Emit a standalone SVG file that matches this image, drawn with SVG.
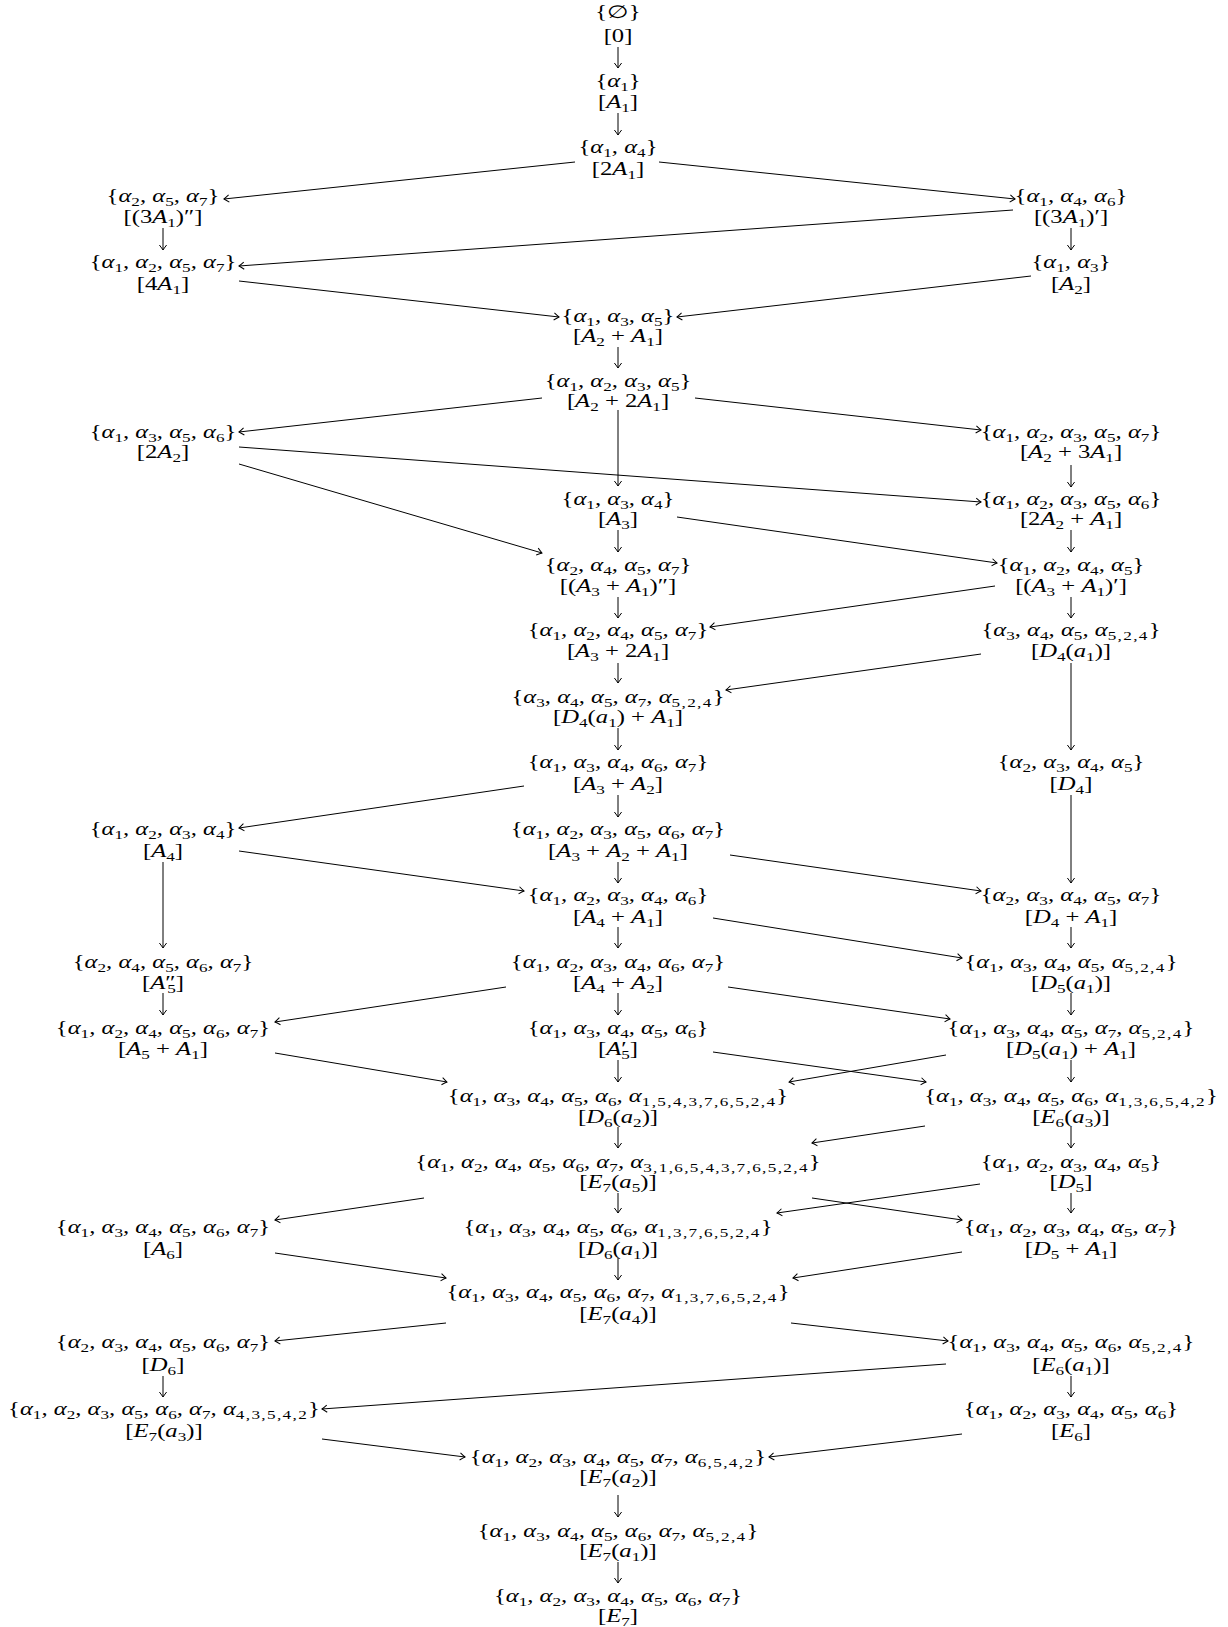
<svg xmlns="http://www.w3.org/2000/svg" width="1228" height="1627" viewBox="0 0 1228 1627">
<style>
text{font-family:"Liberation Serif","Times New Roman",serif;font-size:18px;text-anchor:middle;fill:#000}
.i{font-style:italic}
.u{font-style:normal}
.s{font-size:12.5px;font-style:normal;baseline-shift:-4px}
.m{letter-spacing:1px}
.p{font-style:normal}
.e{stroke:#000;stroke-width:1;fill:none;marker-end:url(#ah)}
</style>
<defs>
<marker id="ah" viewBox="-7 -5 9 10" refX="0" refY="0" markerWidth="9" markerHeight="10" orient="auto" markerUnits="userSpaceOnUse">
<path d="M-5,-3.6 Q-1.6,-1 0,0 Q-1.6,1 -5,3.6" fill="none" stroke="#000" stroke-width="1"/>
</marker>
</defs>
<rect width="1228" height="1627" fill="#fff"/>

<g id="edges">
<line class="e" x1="618" y1="47" x2="618" y2="68"/>
<line class="e" x1="618" y1="113" x2="618" y2="135"/>
<line class="e" x1="618" y1="347" x2="618" y2="368"/>
<line class="e" x1="618" y1="410" x2="618" y2="486"/>
<line class="e" x1="618" y1="530" x2="618" y2="552"/>
<line class="e" x1="618" y1="597" x2="618" y2="618"/>
<line class="e" x1="618" y1="663" x2="618" y2="683"/>
<line class="e" x1="618" y1="728" x2="618" y2="750"/>
<line class="e" x1="618" y1="795" x2="618" y2="817"/>
<line class="e" x1="618" y1="862" x2="618" y2="883"/>
<line class="e" x1="618" y1="927" x2="618" y2="948"/>
<line class="e" x1="618" y1="993" x2="618" y2="1015"/>
<line class="e" x1="618" y1="1060" x2="618" y2="1082"/>
<line class="e" x1="618" y1="1127" x2="618" y2="1148"/>
<line class="e" x1="618" y1="1193" x2="618" y2="1213"/>
<line class="e" x1="618" y1="1258" x2="618" y2="1280"/>
<line class="e" x1="618" y1="1495" x2="618" y2="1517"/>
<line class="e" x1="618" y1="1562" x2="618" y2="1583"/>
<line class="e" x1="163" y1="228" x2="163" y2="250"/>
<line class="e" x1="163" y1="862" x2="163" y2="948"/>
<line class="e" x1="163" y1="993" x2="163" y2="1015"/>
<line class="e" x1="163" y1="1376" x2="163" y2="1397"/>
<line class="e" x1="1071" y1="228" x2="1071" y2="250"/>
<line class="e" x1="1071" y1="465" x2="1071" y2="487"/>
<line class="e" x1="1071" y1="530" x2="1071" y2="552"/>
<line class="e" x1="1071" y1="597" x2="1071" y2="618"/>
<line class="e" x1="1071" y1="663" x2="1071" y2="750"/>
<line class="e" x1="1071" y1="795" x2="1071" y2="883"/>
<line class="e" x1="1071" y1="927" x2="1071" y2="948"/>
<line class="e" x1="1071" y1="993" x2="1071" y2="1015"/>
<line class="e" x1="1071" y1="1060" x2="1071" y2="1082"/>
<line class="e" x1="1071" y1="1127" x2="1071" y2="1148"/>
<line class="e" x1="1071" y1="1193" x2="1071" y2="1213"/>
<line class="e" x1="1071" y1="1376" x2="1071" y2="1397"/>
<line class="e" x1="575" y1="162" x2="224" y2="199"/>
<line class="e" x1="659" y1="162" x2="1015" y2="199"/>
<line class="e" x1="1013" y1="210" x2="239" y2="266"/>
<line class="e" x1="239" y1="281" x2="559" y2="317"/>
<line class="e" x1="1031" y1="276" x2="677" y2="317"/>
<line class="e" x1="542" y1="398" x2="239" y2="432"/>
<line class="e" x1="695" y1="398" x2="981" y2="430"/>
<line class="e" x1="239" y1="447" x2="981" y2="502"/>
<line class="e" x1="239" y1="464" x2="542" y2="553"/>
<line class="e" x1="677" y1="517" x2="997" y2="563"/>
<line class="e" x1="995" y1="586" x2="710" y2="627"/>
<line class="e" x1="981" y1="654" x2="726" y2="690"/>
<line class="e" x1="524" y1="786" x2="239" y2="828"/>
<line class="e" x1="239" y1="851" x2="524" y2="891"/>
<line class="e" x1="730" y1="855" x2="981" y2="891"/>
<line class="e" x1="713" y1="918" x2="962" y2="958"/>
<line class="e" x1="506" y1="987" x2="275" y2="1022"/>
<line class="e" x1="728" y1="987" x2="950" y2="1019"/>
<line class="e" x1="275" y1="1053" x2="447" y2="1082"/>
<line class="e" x1="713" y1="1052" x2="926" y2="1082"/>
<line class="e" x1="946" y1="1055" x2="789" y2="1082"/>
<line class="e" x1="925" y1="1126" x2="812" y2="1143"/>
<line class="e" x1="424" y1="1198" x2="275" y2="1220"/>
<line class="e" x1="812" y1="1198" x2="962" y2="1220"/>
<line class="e" x1="980" y1="1184" x2="777" y2="1213"/>
<line class="e" x1="275" y1="1253" x2="446" y2="1278"/>
<line class="e" x1="962" y1="1252" x2="793" y2="1278"/>
<line class="e" x1="446" y1="1323" x2="275" y2="1341"/>
<line class="e" x1="791" y1="1323" x2="948" y2="1341"/>
<line class="e" x1="946" y1="1364" x2="322" y2="1409"/>
<line class="e" x1="322" y1="1439" x2="465" y2="1457"/>
<line class="e" x1="962" y1="1434" x2="769" y2="1457"/>
</g>

<g id="n0" transform="translate(618 0) scale(1.37 1)"><text y="18">{∅}</text><text y="42">[0]</text></g>
<g id="n1" transform="translate(618 0) scale(1.37 1)"><text class="i" y="87"><tspan class="u">{</tspan>α<tspan class="s">1</tspan><tspan class="u">}</tspan></text><text y="108">[<tspan class="i">A</tspan><tspan class="s">1</tspan>]</text></g>
<g id="n2" transform="translate(618 0) scale(1.37 1)"><text class="i" y="153"><tspan class="u">{</tspan>α<tspan class="s">1</tspan>, α<tspan class="s">4</tspan><tspan class="u">}</tspan></text><text y="175">[2<tspan class="i">A</tspan><tspan class="s">1</tspan>]</text></g>
<g id="n3" transform="translate(163 0) scale(1.37 1)"><text class="i" y="202"><tspan class="u">{</tspan>α<tspan class="s">2</tspan>, α<tspan class="s">5</tspan>, α<tspan class="s">7</tspan><tspan class="u">}</tspan></text><text y="223">[(3<tspan class="i">A</tspan><tspan class="s">1</tspan>)″]</text></g>
<g id="n4" transform="translate(1071 0) scale(1.37 1)"><text class="i" y="202"><tspan class="u">{</tspan>α<tspan class="s">1</tspan>, α<tspan class="s">4</tspan>, α<tspan class="s">6</tspan><tspan class="u">}</tspan></text><text y="223">[(3<tspan class="i">A</tspan><tspan class="s">1</tspan>)′]</text></g>
<g id="n5" transform="translate(163 0) scale(1.37 1)"><text class="i" y="268"><tspan class="u">{</tspan>α<tspan class="s">1</tspan>, α<tspan class="s">2</tspan>, α<tspan class="s">5</tspan>, α<tspan class="s">7</tspan><tspan class="u">}</tspan></text><text y="290">[4<tspan class="i">A</tspan><tspan class="s">1</tspan>]</text></g>
<g id="n6" transform="translate(1071 0) scale(1.37 1)"><text class="i" y="268"><tspan class="u">{</tspan>α<tspan class="s">1</tspan>, α<tspan class="s">3</tspan><tspan class="u">}</tspan></text><text y="290">[<tspan class="i">A</tspan><tspan class="s">2</tspan>]</text></g>
<g id="n7" transform="translate(618 0) scale(1.37 1)"><text class="i" y="322"><tspan class="u">{</tspan>α<tspan class="s">1</tspan>, α<tspan class="s">3</tspan>, α<tspan class="s">5</tspan><tspan class="u">}</tspan></text><text y="342">[<tspan class="i">A</tspan><tspan class="s">2</tspan> + <tspan class="i">A</tspan><tspan class="s">1</tspan>]</text></g>
<g id="n8" transform="translate(618 0) scale(1.37 1)"><text class="i" y="387"><tspan class="u">{</tspan>α<tspan class="s">1</tspan>, α<tspan class="s">2</tspan>, α<tspan class="s">3</tspan>, α<tspan class="s">5</tspan><tspan class="u">}</tspan></text><text y="407">[<tspan class="i">A</tspan><tspan class="s">2</tspan> + 2<tspan class="i">A</tspan><tspan class="s">1</tspan>]</text></g>
<g id="n9" transform="translate(163 0) scale(1.37 1)"><text class="i" y="438"><tspan class="u">{</tspan>α<tspan class="s">1</tspan>, α<tspan class="s">3</tspan>, α<tspan class="s">5</tspan>, α<tspan class="s">6</tspan><tspan class="u">}</tspan></text><text y="458">[2<tspan class="i">A</tspan><tspan class="s">2</tspan>]</text></g>
<g id="n10" transform="translate(1071 0) scale(1.37 1)"><text class="i" y="438"><tspan class="u">{</tspan>α<tspan class="s">1</tspan>, α<tspan class="s">2</tspan>, α<tspan class="s">3</tspan>, α<tspan class="s">5</tspan>, α<tspan class="s">7</tspan><tspan class="u">}</tspan></text><text y="458">[<tspan class="i">A</tspan><tspan class="s">2</tspan> + 3<tspan class="i">A</tspan><tspan class="s">1</tspan>]</text></g>
<g id="n11" transform="translate(618 0) scale(1.37 1)"><text class="i" y="505"><tspan class="u">{</tspan>α<tspan class="s">1</tspan>, α<tspan class="s">3</tspan>, α<tspan class="s">4</tspan><tspan class="u">}</tspan></text><text y="525">[<tspan class="i">A</tspan><tspan class="s">3</tspan>]</text></g>
<g id="n12" transform="translate(1071 0) scale(1.37 1)"><text class="i" y="505"><tspan class="u">{</tspan>α<tspan class="s">1</tspan>, α<tspan class="s">2</tspan>, α<tspan class="s">3</tspan>, α<tspan class="s">5</tspan>, α<tspan class="s">6</tspan><tspan class="u">}</tspan></text><text y="525">[2<tspan class="i">A</tspan><tspan class="s">2</tspan> + <tspan class="i">A</tspan><tspan class="s">1</tspan>]</text></g>
<g id="n13" transform="translate(618 0) scale(1.37 1)"><text class="i" y="571"><tspan class="u">{</tspan>α<tspan class="s">2</tspan>, α<tspan class="s">4</tspan>, α<tspan class="s">5</tspan>, α<tspan class="s">7</tspan><tspan class="u">}</tspan></text><text y="592">[(<tspan class="i">A</tspan><tspan class="s">3</tspan> + <tspan class="i">A</tspan><tspan class="s">1</tspan>)″]</text></g>
<g id="n14" transform="translate(1071 0) scale(1.37 1)"><text class="i" y="571"><tspan class="u">{</tspan>α<tspan class="s">1</tspan>, α<tspan class="s">2</tspan>, α<tspan class="s">4</tspan>, α<tspan class="s">5</tspan><tspan class="u">}</tspan></text><text y="592">[(<tspan class="i">A</tspan><tspan class="s">3</tspan> + <tspan class="i">A</tspan><tspan class="s">1</tspan>)′]</text></g>
<g id="n15" transform="translate(618 0) scale(1.37 1)"><text class="i" y="636"><tspan class="u">{</tspan>α<tspan class="s">1</tspan>, α<tspan class="s">2</tspan>, α<tspan class="s">4</tspan>, α<tspan class="s">5</tspan>, α<tspan class="s">7</tspan><tspan class="u">}</tspan></text><text y="657">[<tspan class="i">A</tspan><tspan class="s">3</tspan> + 2<tspan class="i">A</tspan><tspan class="s">1</tspan>]</text></g>
<g id="n16" transform="translate(1071 0) scale(1.37 1)"><text class="i" y="636"><tspan class="u">{</tspan>α<tspan class="s">3</tspan>, α<tspan class="s">4</tspan>, α<tspan class="s">5</tspan>, α<tspan class="s m">5,2,4</tspan><tspan class="u">}</tspan></text><text y="657">[<tspan class="i">D</tspan><tspan class="s">4</tspan>(<tspan class="i">a</tspan><tspan class="s">1</tspan>)]</text></g>
<g id="n17" transform="translate(618 0) scale(1.37 1)"><text class="i" y="703"><tspan class="u">{</tspan>α<tspan class="s">3</tspan>, α<tspan class="s">4</tspan>, α<tspan class="s">5</tspan>, α<tspan class="s">7</tspan>, α<tspan class="s m">5,2,4</tspan><tspan class="u">}</tspan></text><text y="723">[<tspan class="i">D</tspan><tspan class="s">4</tspan>(<tspan class="i">a</tspan><tspan class="s">1</tspan>) + <tspan class="i">A</tspan><tspan class="s">1</tspan>]</text></g>
<g id="n18" transform="translate(618 0) scale(1.37 1)"><text class="i" y="768"><tspan class="u">{</tspan>α<tspan class="s">1</tspan>, α<tspan class="s">3</tspan>, α<tspan class="s">4</tspan>, α<tspan class="s">6</tspan>, α<tspan class="s">7</tspan><tspan class="u">}</tspan></text><text y="790">[<tspan class="i">A</tspan><tspan class="s">3</tspan> + <tspan class="i">A</tspan><tspan class="s">2</tspan>]</text></g>
<g id="n19" transform="translate(1071 0) scale(1.37 1)"><text class="i" y="768"><tspan class="u">{</tspan>α<tspan class="s">2</tspan>, α<tspan class="s">3</tspan>, α<tspan class="s">4</tspan>, α<tspan class="s">5</tspan><tspan class="u">}</tspan></text><text y="790">[<tspan class="i">D</tspan><tspan class="s">4</tspan>]</text></g>
<g id="n20" transform="translate(163 0) scale(1.37 1)"><text class="i" y="835"><tspan class="u">{</tspan>α<tspan class="s">1</tspan>, α<tspan class="s">2</tspan>, α<tspan class="s">3</tspan>, α<tspan class="s">4</tspan><tspan class="u">}</tspan></text><text y="857">[<tspan class="i">A</tspan><tspan class="s">4</tspan>]</text></g>
<g id="n21" transform="translate(618 0) scale(1.37 1)"><text class="i" y="835"><tspan class="u">{</tspan>α<tspan class="s">1</tspan>, α<tspan class="s">2</tspan>, α<tspan class="s">3</tspan>, α<tspan class="s">5</tspan>, α<tspan class="s">6</tspan>, α<tspan class="s">7</tspan><tspan class="u">}</tspan></text><text y="857">[<tspan class="i">A</tspan><tspan class="s">3</tspan> + <tspan class="i">A</tspan><tspan class="s">2</tspan> + <tspan class="i">A</tspan><tspan class="s">1</tspan>]</text></g>
<g id="n22" transform="translate(618 0) scale(1.37 1)"><text class="i" y="901"><tspan class="u">{</tspan>α<tspan class="s">1</tspan>, α<tspan class="s">2</tspan>, α<tspan class="s">3</tspan>, α<tspan class="s">4</tspan>, α<tspan class="s">6</tspan><tspan class="u">}</tspan></text><text y="923">[<tspan class="i">A</tspan><tspan class="s">4</tspan> + <tspan class="i">A</tspan><tspan class="s">1</tspan>]</text></g>
<g id="n23" transform="translate(1071 0) scale(1.37 1)"><text class="i" y="901"><tspan class="u">{</tspan>α<tspan class="s">2</tspan>, α<tspan class="s">3</tspan>, α<tspan class="s">4</tspan>, α<tspan class="s">5</tspan>, α<tspan class="s">7</tspan><tspan class="u">}</tspan></text><text y="923">[<tspan class="i">D</tspan><tspan class="s">4</tspan> + <tspan class="i">A</tspan><tspan class="s">1</tspan>]</text></g>
<g id="n24" transform="translate(163 0) scale(1.37 1)"><text class="i" y="968"><tspan class="u">{</tspan>α<tspan class="s">2</tspan>, α<tspan class="s">4</tspan>, α<tspan class="s">5</tspan>, α<tspan class="s">6</tspan>, α<tspan class="s">7</tspan><tspan class="u">}</tspan></text><text y="989">[<tspan class="i">A</tspan><tspan class="p">″</tspan><tspan class="s" dx="-6">5</tspan>]</text></g>
<g id="n25" transform="translate(618 0) scale(1.37 1)"><text class="i" y="968"><tspan class="u">{</tspan>α<tspan class="s">1</tspan>, α<tspan class="s">2</tspan>, α<tspan class="s">3</tspan>, α<tspan class="s">4</tspan>, α<tspan class="s">6</tspan>, α<tspan class="s">7</tspan><tspan class="u">}</tspan></text><text y="989">[<tspan class="i">A</tspan><tspan class="s">4</tspan> + <tspan class="i">A</tspan><tspan class="s">2</tspan>]</text></g>
<g id="n26" transform="translate(1071 0) scale(1.37 1)"><text class="i" y="968"><tspan class="u">{</tspan>α<tspan class="s">1</tspan>, α<tspan class="s">3</tspan>, α<tspan class="s">4</tspan>, α<tspan class="s">5</tspan>, α<tspan class="s m">5,2,4</tspan><tspan class="u">}</tspan></text><text y="989">[<tspan class="i">D</tspan><tspan class="s">5</tspan>(<tspan class="i">a</tspan><tspan class="s">1</tspan>)]</text></g>
<g id="n27" transform="translate(163 0) scale(1.37 1)"><text class="i" y="1034"><tspan class="u">{</tspan>α<tspan class="s">1</tspan>, α<tspan class="s">2</tspan>, α<tspan class="s">4</tspan>, α<tspan class="s">5</tspan>, α<tspan class="s">6</tspan>, α<tspan class="s">7</tspan><tspan class="u">}</tspan></text><text y="1055">[<tspan class="i">A</tspan><tspan class="s">5</tspan> + <tspan class="i">A</tspan><tspan class="s">1</tspan>]</text></g>
<g id="n28" transform="translate(618 0) scale(1.37 1)"><text class="i" y="1034"><tspan class="u">{</tspan>α<tspan class="s">1</tspan>, α<tspan class="s">3</tspan>, α<tspan class="s">4</tspan>, α<tspan class="s">5</tspan>, α<tspan class="s">6</tspan><tspan class="u">}</tspan></text><text y="1055">[<tspan class="i">A</tspan><tspan class="p">′</tspan><tspan class="s" dx="-4">5</tspan>]</text></g>
<g id="n29" transform="translate(1071 0) scale(1.37 1)"><text class="i" y="1034"><tspan class="u">{</tspan>α<tspan class="s">1</tspan>, α<tspan class="s">3</tspan>, α<tspan class="s">4</tspan>, α<tspan class="s">5</tspan>, α<tspan class="s">7</tspan>, α<tspan class="s m">5,2,4</tspan><tspan class="u">}</tspan></text><text y="1055">[<tspan class="i">D</tspan><tspan class="s">5</tspan>(<tspan class="i">a</tspan><tspan class="s">1</tspan>) + <tspan class="i">A</tspan><tspan class="s">1</tspan>]</text></g>
<g id="n30" transform="translate(618 0) scale(1.37 1)"><text class="i" y="1102"><tspan class="u">{</tspan>α<tspan class="s">1</tspan>, α<tspan class="s">3</tspan>, α<tspan class="s">4</tspan>, α<tspan class="s">5</tspan>, α<tspan class="s">6</tspan>, α<tspan class="s m">1,5,4,3,7,6,5,2,4</tspan><tspan class="u">}</tspan></text><text y="1123">[<tspan class="i">D</tspan><tspan class="s">6</tspan>(<tspan class="i">a</tspan><tspan class="s">2</tspan>)]</text></g>
<g id="n31" transform="translate(1071 0) scale(1.37 1)"><text class="i" y="1102"><tspan class="u">{</tspan>α<tspan class="s">1</tspan>, α<tspan class="s">3</tspan>, α<tspan class="s">4</tspan>, α<tspan class="s">5</tspan>, α<tspan class="s">6</tspan>, α<tspan class="s m">1,3,6,5,4,2</tspan><tspan class="u">}</tspan></text><text y="1123">[<tspan class="i">E</tspan><tspan class="s">6</tspan>(<tspan class="i">a</tspan><tspan class="s">3</tspan>)]</text></g>
<g id="n32" transform="translate(618 0) scale(1.37 1)"><text class="i" y="1168"><tspan class="u">{</tspan>α<tspan class="s">1</tspan>, α<tspan class="s">2</tspan>, α<tspan class="s">4</tspan>, α<tspan class="s">5</tspan>, α<tspan class="s">6</tspan>, α<tspan class="s">7</tspan>, α<tspan class="s m">3,1,6,5,4,3,7,6,5,2,4</tspan><tspan class="u">}</tspan></text><text y="1188">[<tspan class="i">E</tspan><tspan class="s">7</tspan>(<tspan class="i">a</tspan><tspan class="s">5</tspan>)]</text></g>
<g id="n33" transform="translate(1071 0) scale(1.37 1)"><text class="i" y="1168"><tspan class="u">{</tspan>α<tspan class="s">1</tspan>, α<tspan class="s">2</tspan>, α<tspan class="s">3</tspan>, α<tspan class="s">4</tspan>, α<tspan class="s">5</tspan><tspan class="u">}</tspan></text><text y="1188">[<tspan class="i">D</tspan><tspan class="s">5</tspan>]</text></g>
<g id="n34" transform="translate(163 0) scale(1.37 1)"><text class="i" y="1233"><tspan class="u">{</tspan>α<tspan class="s">1</tspan>, α<tspan class="s">3</tspan>, α<tspan class="s">4</tspan>, α<tspan class="s">5</tspan>, α<tspan class="s">6</tspan>, α<tspan class="s">7</tspan><tspan class="u">}</tspan></text><text y="1255">[<tspan class="i">A</tspan><tspan class="s">6</tspan>]</text></g>
<g id="n35" transform="translate(618 0) scale(1.37 1)"><text class="i" y="1233"><tspan class="u">{</tspan>α<tspan class="s">1</tspan>, α<tspan class="s">3</tspan>, α<tspan class="s">4</tspan>, α<tspan class="s">5</tspan>, α<tspan class="s">6</tspan>, α<tspan class="s m">1,3,7,6,5,2,4</tspan><tspan class="u">}</tspan></text><text y="1255">[<tspan class="i">D</tspan><tspan class="s">6</tspan>(<tspan class="i">a</tspan><tspan class="s">1</tspan>)]</text></g>
<g id="n36" transform="translate(1071 0) scale(1.37 1)"><text class="i" y="1233"><tspan class="u">{</tspan>α<tspan class="s">1</tspan>, α<tspan class="s">2</tspan>, α<tspan class="s">3</tspan>, α<tspan class="s">4</tspan>, α<tspan class="s">5</tspan>, α<tspan class="s">7</tspan><tspan class="u">}</tspan></text><text y="1255">[<tspan class="i">D</tspan><tspan class="s">5</tspan> + <tspan class="i">A</tspan><tspan class="s">1</tspan>]</text></g>
<g id="n37" transform="translate(618 0) scale(1.37 1)"><text class="i" y="1298"><tspan class="u">{</tspan>α<tspan class="s">1</tspan>, α<tspan class="s">3</tspan>, α<tspan class="s">4</tspan>, α<tspan class="s">5</tspan>, α<tspan class="s">6</tspan>, α<tspan class="s">7</tspan>, α<tspan class="s m">1,3,7,6,5,2,4</tspan><tspan class="u">}</tspan></text><text y="1320">[<tspan class="i">E</tspan><tspan class="s">7</tspan>(<tspan class="i">a</tspan><tspan class="s">4</tspan>)]</text></g>
<g id="n38" transform="translate(163 0) scale(1.37 1)"><text class="i" y="1348"><tspan class="u">{</tspan>α<tspan class="s">2</tspan>, α<tspan class="s">3</tspan>, α<tspan class="s">4</tspan>, α<tspan class="s">5</tspan>, α<tspan class="s">6</tspan>, α<tspan class="s">7</tspan><tspan class="u">}</tspan></text><text y="1371">[<tspan class="i">D</tspan><tspan class="s">6</tspan>]</text></g>
<g id="n39" transform="translate(1071 0) scale(1.37 1)"><text class="i" y="1348"><tspan class="u">{</tspan>α<tspan class="s">1</tspan>, α<tspan class="s">3</tspan>, α<tspan class="s">4</tspan>, α<tspan class="s">5</tspan>, α<tspan class="s">6</tspan>, α<tspan class="s m">5,2,4</tspan><tspan class="u">}</tspan></text><text y="1371">[<tspan class="i">E</tspan><tspan class="s">6</tspan>(<tspan class="i">a</tspan><tspan class="s">1</tspan>)]</text></g>
<g id="n40" transform="translate(164 0) scale(1.37 1)"><text class="i" y="1415"><tspan class="u">{</tspan>α<tspan class="s">1</tspan>, α<tspan class="s">2</tspan>, α<tspan class="s">3</tspan>, α<tspan class="s">5</tspan>, α<tspan class="s">6</tspan>, α<tspan class="s">7</tspan>, α<tspan class="s m">4,3,5,4,2</tspan><tspan class="u">}</tspan></text><text y="1437">[<tspan class="i">E</tspan><tspan class="s">7</tspan>(<tspan class="i">a</tspan><tspan class="s">3</tspan>)]</text></g>
<g id="n41" transform="translate(1071 0) scale(1.37 1)"><text class="i" y="1415"><tspan class="u">{</tspan>α<tspan class="s">1</tspan>, α<tspan class="s">2</tspan>, α<tspan class="s">3</tspan>, α<tspan class="s">4</tspan>, α<tspan class="s">5</tspan>, α<tspan class="s">6</tspan><tspan class="u">}</tspan></text><text y="1437">[<tspan class="i">E</tspan><tspan class="s">6</tspan>]</text></g>
<g id="n42" transform="translate(618 0) scale(1.37 1)"><text class="i" y="1463"><tspan class="u">{</tspan>α<tspan class="s">1</tspan>, α<tspan class="s">2</tspan>, α<tspan class="s">3</tspan>, α<tspan class="s">4</tspan>, α<tspan class="s">5</tspan>, α<tspan class="s">7</tspan>, α<tspan class="s m">6,5,4,2</tspan><tspan class="u">}</tspan></text><text y="1483">[<tspan class="i">E</tspan><tspan class="s">7</tspan>(<tspan class="i">a</tspan><tspan class="s">2</tspan>)]</text></g>
<g id="n43" transform="translate(618 0) scale(1.37 1)"><text class="i" y="1537"><tspan class="u">{</tspan>α<tspan class="s">1</tspan>, α<tspan class="s">3</tspan>, α<tspan class="s">4</tspan>, α<tspan class="s">5</tspan>, α<tspan class="s">6</tspan>, α<tspan class="s">7</tspan>, α<tspan class="s m">5,2,4</tspan><tspan class="u">}</tspan></text><text y="1557">[<tspan class="i">E</tspan><tspan class="s">7</tspan>(<tspan class="i">a</tspan><tspan class="s">1</tspan>)]</text></g>
<g id="n44" transform="translate(618 0) scale(1.37 1)"><text class="i" y="1602"><tspan class="u">{</tspan>α<tspan class="s">1</tspan>, α<tspan class="s">2</tspan>, α<tspan class="s">3</tspan>, α<tspan class="s">4</tspan>, α<tspan class="s">5</tspan>, α<tspan class="s">6</tspan>, α<tspan class="s">7</tspan><tspan class="u">}</tspan></text><text y="1622">[<tspan class="i">E</tspan><tspan class="s">7</tspan>]</text></g>
</svg>
